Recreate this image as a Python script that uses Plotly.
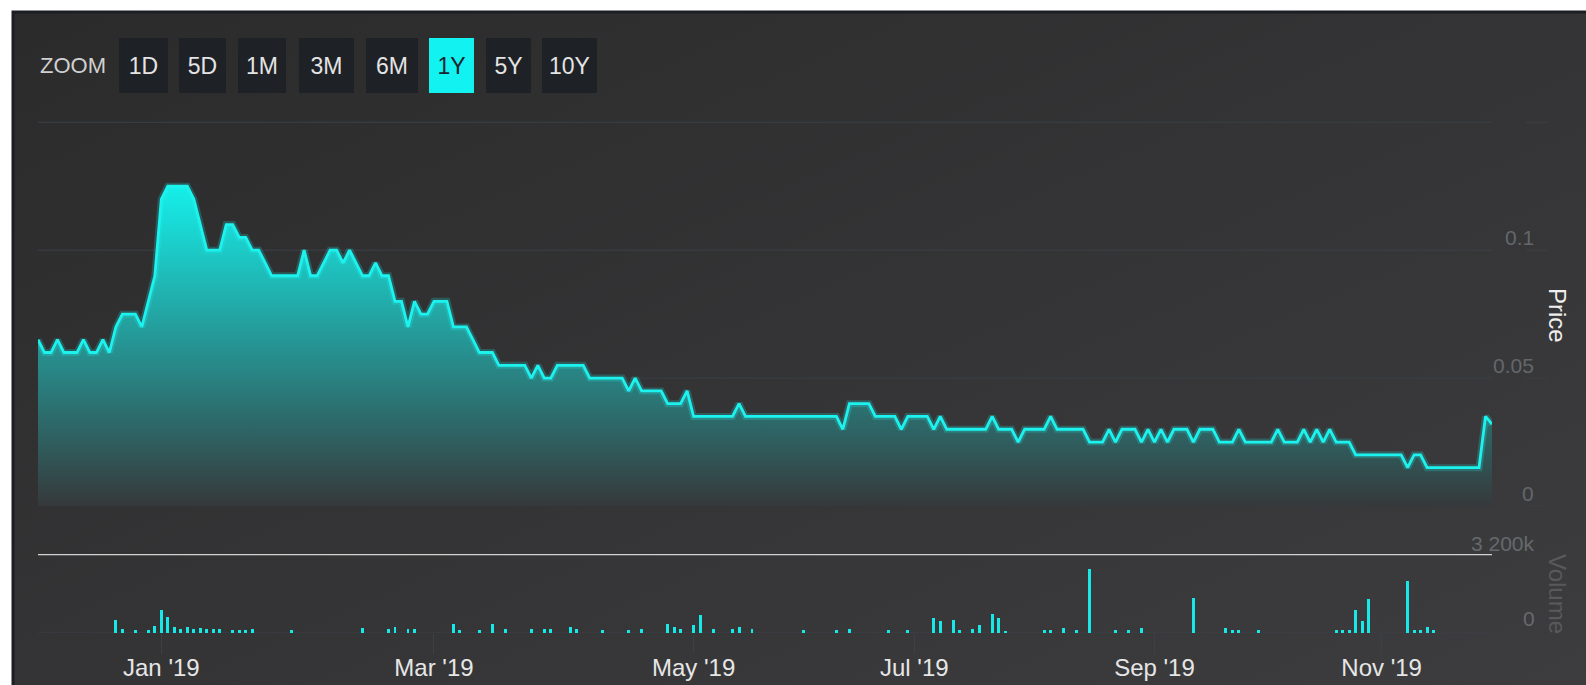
import base64
import plotly.graph_objects as go

# ---------------- data ----------------
price = [
    0.065, 0.06, 0.06, 0.065, 0.06, 0.06, 0.06, 0.065, 0.06, 0.06,
    0.065, 0.06, 0.07, 0.075, 0.075, 0.075, 0.07, 0.08, 0.09, 0.12,
    0.125, 0.125, 0.125, 0.125, 0.12, 0.11, 0.1, 0.1, 0.1, 0.11,
    0.11, 0.105, 0.105, 0.1, 0.1, 0.095, 0.09, 0.09, 0.09, 0.09,
    0.09, 0.1, 0.09, 0.09, 0.095, 0.1, 0.1, 0.095, 0.1, 0.095,
    0.09, 0.09, 0.095, 0.09, 0.09, 0.08, 0.08, 0.07, 0.08, 0.075,
    0.075, 0.08, 0.08, 0.08, 0.07, 0.07, 0.07, 0.065, 0.06, 0.06,
    0.06, 0.055, 0.055, 0.055, 0.055, 0.055, 0.05, 0.055, 0.05, 0.05,
    0.055, 0.055, 0.055, 0.055, 0.055, 0.05, 0.05, 0.05, 0.05, 0.05,
    0.05, 0.045, 0.05, 0.045, 0.045, 0.045, 0.045, 0.04, 0.04, 0.04,
    0.045, 0.035, 0.035, 0.035, 0.035, 0.035, 0.035, 0.035, 0.04, 0.035,
    0.035, 0.035, 0.035, 0.035, 0.035, 0.035, 0.035, 0.035, 0.035, 0.035,
    0.035, 0.035, 0.035, 0.035, 0.03, 0.04, 0.04, 0.04, 0.04, 0.035,
    0.035, 0.035, 0.035, 0.03, 0.035, 0.035, 0.035, 0.035, 0.03, 0.035,
    0.03, 0.03, 0.03, 0.03, 0.03, 0.03, 0.03, 0.035, 0.03, 0.03,
    0.03, 0.025, 0.03, 0.03, 0.03, 0.03, 0.035, 0.03, 0.03, 0.03,
    0.03, 0.03, 0.025, 0.025, 0.025, 0.03, 0.025, 0.03, 0.03, 0.03,
    0.025, 0.03, 0.025, 0.03, 0.025, 0.03, 0.03, 0.03, 0.025, 0.03,
    0.03, 0.03, 0.025, 0.025, 0.025, 0.03, 0.025, 0.025, 0.025, 0.025,
    0.025, 0.03, 0.025, 0.025, 0.025, 0.03, 0.025, 0.03, 0.025, 0.03,
    0.025, 0.025, 0.025, 0.02, 0.02, 0.02, 0.02, 0.02, 0.02, 0.02,
    0.02, 0.015, 0.02, 0.02, 0.015, 0.015, 0.015, 0.015, 0.015, 0.015,
    0.015, 0.015, 0.015, 0.035, 0.032,
]

volume_session = [
    12, 13, 15, 17, 18, 19, 20, 21, 22, 23, 24, 25, 26, 27, 28, 30, 31, 32, 33, 39,
    50, 54, 55, 57, 58, 64, 65, 68, 70, 72, 76, 78, 79, 82, 83, 87, 91, 93,
    97, 98, 99, 101, 102, 104, 107, 108, 110, 118, 123, 125, 131, 134,
    138, 139, 141, 142, 144, 145, 147, 148, 149, 155, 156, 158, 160, 162,
    166, 168, 170, 178, 183, 184, 185, 188, 200, 201, 202, 203, 204, 205,
    211, 212, 213, 214, 215,
]
volume = [
    540000, 160000, 120000, 120000, 280000, 920000, 650000, 240000, 160000, 240000,
    160000, 200000, 160000, 160000, 160000, 120000, 120000, 120000, 160000, 120000,
    200000, 160000, 240000, 160000, 160000, 365000, 120000, 120000, 365000, 160000,
    160000, 160000, 160000, 240000, 160000, 120000, 120000, 160000,
    365000, 240000, 160000, 325000, 730000, 160000, 160000, 240000, 160000, 120000,
    120000, 160000, 120000, 120000,
    610000, 490000, 530000, 120000, 160000, 325000, 770000, 610000, 80000, 120000,
    120000, 200000, 120000, 2590000,
    120000, 120000, 200000, 1420000, 200000, 120000, 120000, 120000, 120000, 120000,
    120000, 930000, 490000, 1380000,
    2110000, 120000, 120000, 240000, 120000,
]

month_labels = ["Jan '19", "Mar '19", "May '19", "Jul '19", "Sep '19", "Nov '19"]
month_start_session = [19, 61, 101, 135, 172, 207]

price_ticks = [0, 0.05, 0.1, 0.15]
price_tick_text = ["0", "0.05", "0.1", ""]
volume_ticks = [0, 3200000]
volume_tick_text = ["0", "3 200k"]

zoom_buttons = ["1D", "5D", "1M", "3M", "6M", "1Y", "5Y", "10Y"]
active_button = "1Y"

# ---------------- layout geometry (pixels) ----------------
W, H = 1586, 685
L, R, T, B = 38, 1492, 121, 633
PRICE_BOTTOM = 506
VOL_TOP = 554


def px_x(px):
    return (px - L) / (R - L)


def px_y(py):
    return (B - py) / (B - T)


FONT = "Liberation Sans, Arial, sans-serif"
GRID = "#3a4047"
CYAN = "#1df3ee"

fig = go.Figure()

fig.add_trace(go.Scatter(
    x=list(range(len(price))), y=price, mode="lines",
    line=dict(color="rgba(30,243,238,0.22)", width=7),
    fill="tozeroy",
    fillgradient=dict(type="vertical",
                      colorscale=[[0, "#36393b"], [1, "#14f6f1"]],
                      start=0, stop=0.13),
    xaxis="x", yaxis="y", hoverinfo="skip", showlegend=False,
))
fig.add_trace(go.Scatter(
    x=list(range(len(price))), y=price, mode="lines",
    line=dict(color=CYAN, width=2.8),
    xaxis="x", yaxis="y", hoverinfo="skip", showlegend=False,
))

fig.add_trace(go.Bar(
    x=volume_session, y=volume, width=0.45,
    marker=dict(color="#17e9e9", line=dict(width=0)),
    xaxis="x", yaxis="y2", hoverinfo="skip", showlegend=False,
))

shapes = []
annotations = []

# price grid lines (two segments each) and labels
for t, lab in zip(price_ticks, price_tick_text):
    shapes.append(dict(type="line", xref="paper", yref="y", x0=0, x1=1, y0=t, y1=t,
                       line=dict(color=GRID, width=1), layer="below"))
    shapes.append(dict(type="line", xref="paper", yref="y", x0=px_x(1526), x1=px_x(1547),
                       y0=t, y1=t, line=dict(color=GRID, width=1), layer="below"))
    if lab:
        annotations.append(dict(text=lab, xref="paper", yref="y", x=px_x(1536), y=t,
                                xanchor="right", yanchor="middle", yshift=13,
                                showarrow=False, font=dict(family=FONT, size=21, color="#62676b")))

# volume grid / separator and labels
shapes.append(dict(type="line", xref="paper", yref="y2", x0=0, x1=1, y0=0, y1=0,
                   line=dict(color=GRID, width=1), layer="below"))
shapes.append(dict(type="line", xref="paper", yref="y2", x0=0, x1=1,
                   y0=volume_ticks[-1], y1=volume_ticks[-1],
                   line=dict(color="#d2d2d2", width=2.5), layer="above"))
for v, lab, shift in zip(volume_ticks, volume_tick_text, [15, 11]):
    annotations.append(dict(text=lab, xref="paper", yref="y2", x=px_x(1537), y=v,
                            xanchor="right", yanchor="middle", yshift=shift,
                            showarrow=False, font=dict(family=FONT, size=21, color="#66696c")))

# axis titles
annotations.append(dict(text="Price", xref="paper", yref="paper", x=px_x(1558), y=px_y(315),
                        textangle=90, showarrow=False, xanchor="center", yanchor="middle",
                        font=dict(family=FONT, size=24, color="#eeeeee")))
annotations.append(dict(text="Volume", xref="paper", yref="paper", x=px_x(1558), y=px_y(594),
                        textangle=90, showarrow=False, xanchor="center", yanchor="middle",
                        font=dict(family=FONT, size=24, color="#58595b")))

# zoom selector
annotations.append(dict(text="ZOOM", xref="paper", yref="paper", x=px_x(38), y=px_y(65),
                        xanchor="left", yanchor="middle", showarrow=False,
                        font=dict(family=FONT, size=22, color="#d0d0d0")))
btn_left = [119, 179, 238, 299, 366, 429, 486, 542]
btn_right = [168, 226, 286, 354, 418, 474, 531, 597]
for name, x0, x1 in zip(zoom_buttons, btn_left, btn_right):
    active = name == active_button
    annotations.append(dict(
        text=name, xref="paper", yref="paper", x=px_x((x0 + x1) / 2), y=px_y(65.5),
        xanchor="center", yanchor="middle", showarrow=False,
        width=x1 - x0, height=55, borderpad=0, borderwidth=0,
        bgcolor="#12f2f0" if active else "#1e2126",
        font=dict(family=FONT, size=23, color="#17252c" if active else "#e4e4e4")))

# background panel with gradient
svg = ('<svg xmlns="http://www.w3.org/2000/svg" width="200" height="100" viewBox="0 0 200 100" '
       'preserveAspectRatio="none"><defs><linearGradient id="g" x1="0" y1="0" x2="1" y2="1">'
       '<stop offset="0" stop-color="#2b2b2c"/><stop offset="1" stop-color="#3d3d3f"/>'
       '</linearGradient></defs><rect width="200" height="100" fill="url(#g)"/></svg>')
src = "data:image/svg+xml;base64," + base64.b64encode(svg.encode()).decode()
images = [dict(source=src, xref="paper", yref="paper", x=px_x(13), y=px_y(11),
               sizex=(W + 20 - 13) / (R - L), sizey=(H + 20 - 11) / (B - T),
               xanchor="left", yanchor="top", sizing="stretch", layer="below")]
shapes.append(dict(type="rect", xref="paper", yref="paper",
                   x0=px_x(13), x1=px_x(W + 30), y0=px_y(12), y1=px_y(H + 30),
                   line=dict(color="#1b1f24", width=3), fillcolor="rgba(0,0,0,0)", layer="above"))

fig.update_layout(
    width=W, height=H, autosize=False,
    margin=dict(l=L, r=W - R, t=T, b=H - B, pad=0, autoexpand=False),
    paper_bgcolor="#ffffff", plot_bgcolor="rgba(0,0,0,0)",
    showlegend=False, hovermode=False, bargap=0,
    font=dict(family=FONT),
    xaxis=dict(domain=[0, 1], anchor="y2", range=[0, len(price) - 1], automargin=False,
               tickmode="array", tickvals=month_start_session, ticktext=month_labels,
               ticks="outside", ticklen=20, tickwidth=1, tickcolor="#3c4147",
               ticklabelstandoff=-7,
               tickfont=dict(family=FONT, size=24, color="#e6e6e6"),
               showgrid=False, zeroline=False, showline=False, fixedrange=True),
    yaxis=dict(domain=[px_y(PRICE_BOTTOM), 1], anchor="x", range=[0, 0.1505], automargin=False,
               showgrid=False, zeroline=False, showticklabels=False, fixedrange=True),
    yaxis2=dict(domain=[0, px_y(VOL_TOP)], anchor="x", range=[0, volume_ticks[-1]],
                automargin=False,
                showgrid=False, zeroline=False, showticklabels=False, fixedrange=True),
    shapes=shapes, annotations=annotations, images=images,
)

fig.write_html("out.html", config={"displayModeBar": False},
               post_script="document.body.style.margin='0px';")
